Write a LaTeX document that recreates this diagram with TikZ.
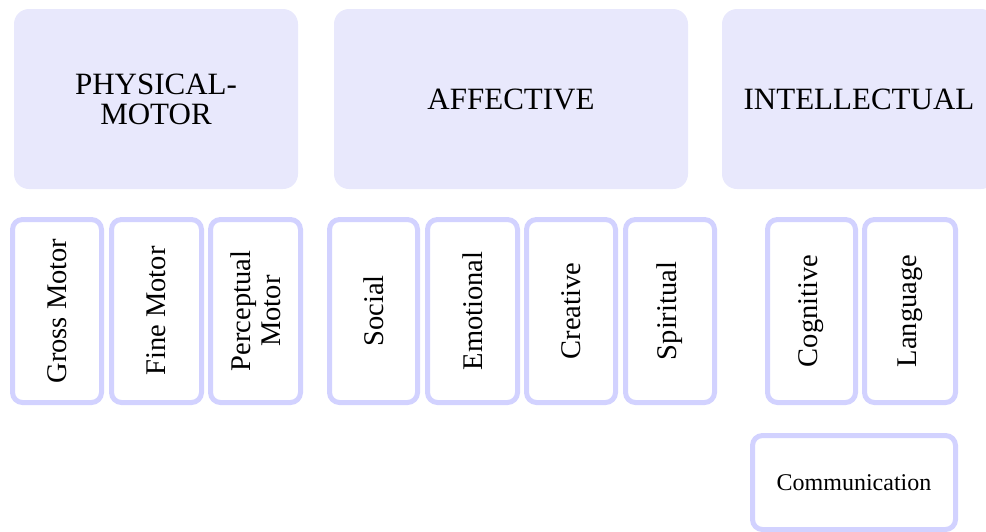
\documentclass[tikz,border=0pt]{standalone}
\usepackage{fontspec}
\setmainfont{Liberation Serif}
\definecolor{headfill}{RGB}{232,232,252}
\definecolor{subline}{RGB}{210,210,255}
\tikzset{
  headbox/.style={fill=headfill, draw=none, rounded corners=15pt, minimum width=#1, minimum height=180pt, align=center, inner sep=0pt, font=\fontsize{31}{30}\selectfont},
  subbox/.style={draw=subline, fill=white, line width=5pt, rounded corners=10pt, rotate=90, minimum width=183pt, minimum height=#1, align=center, inner sep=0pt, font=\fontsize{28.5}{30}\selectfont},
  commbox/.style={draw=subline, fill=white, line width=5pt, rounded corners=10pt, minimum width=203pt, minimum height=94pt, align=center, inner sep=0pt, font=\fontsize{24}{28}\selectfont}
}
\begin{document}
\begin{tikzpicture}[x=1pt,y=-1pt]
\useasboundingbox (0,0) rectangle (986,531);
\clip (0,0) rectangle (986,531);
\node[headbox=284pt] (pm) at (156,99) {PHYSICAL-\\MOTOR};
\node[headbox=354pt] (aff) at (511,99) {AFFECTIVE};
\node[headbox=274pt] (int) at (859,99) {INTELLECTUAL};
\node[subbox=89pt] (gross) at (57,311) {Gross Motor};
\node[subbox=90pt] (fine) at (156.5,311) {Fine Motor};
\node[subbox=90pt] (perc) at (255.5,311) {Perceptual\\Motor};
\node[subbox=88pt] (social) at (373.5,311) {Social};
\node[subbox=90pt] (emo) at (472.5,311) {Emotional};
\node[subbox=89pt] (crea) at (571,311) {Creative};
\node[subbox=89pt] (spir) at (670,311) {Spiritual};
\node[subbox=88pt] (cog) at (811.5,311) {Cognitive};
\node[subbox=91pt] (lang) at (910,311) {Language};
\node[commbox] (comm) at (854,482.5) {Communication};
\end{tikzpicture}
\end{document}
